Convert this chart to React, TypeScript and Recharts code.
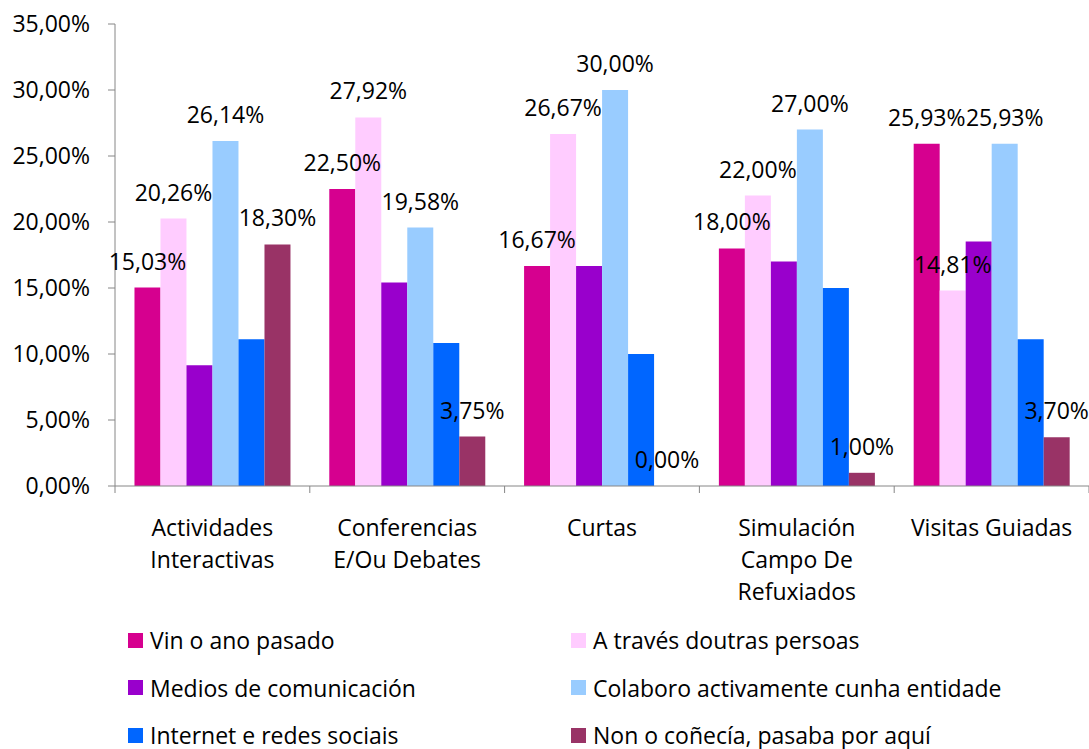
import { BarChart, Bar, XAxis, YAxis, Legend, LabelList } from 'recharts';

const categories = [
  'Actividades Interactivas',
  'Conferencias E/Ou Debates',
  'Curtas',
  'Simulación Campo De Refuxiados',
  'Visitas Guiadas',
];
// how each category label wraps under the axis
const categoryLines = [
  ['Actividades', 'Interactivas'],
  ['Conferencias', 'E/Ou Debates'],
  ['Curtas'],
  ['Simulación', 'Campo De', 'Refuxiados'],
  ['Visitas Guiadas'],
];

const vinAnoPasado = [15.03, 22.5, 16.67, 18.0, 25.93];
const travesDoutras = [20.26, 27.92, 26.67, 22.0, 14.81];
const medios = [9.15, 15.42, 16.67, 17.0, 18.52];
const colaboro = [26.14, 19.58, 30.0, 27.0, 25.93];
const internet = [11.11, 10.83, 10.0, 15.0, 11.11];
const nonCoñecia = [18.3, 3.75, 0.0, 1.0, 3.7];

const yTicks = [0, 5, 10, 15, 20, 25, 30, 35];

const SERIES = [
  { key: 'vin', name: 'Vin o ano pasado', color: '#D6008F', values: vinAnoPasado, labels: true },
  { key: 'traves', name: 'A través doutras persoas', color: '#FFCCFF', values: travesDoutras, labels: true },
  { key: 'medios', name: 'Medios de comunicación', color: '#9900CC', values: medios, labels: false },
  { key: 'colaboro', name: 'Colaboro activamente cunha entidade', color: '#99CCFF', values: colaboro, labels: true },
  { key: 'internet', name: 'Internet e redes sociais', color: '#0066FF', values: internet, labels: false },
  { key: 'non', name: 'Non o coñecía, pasaba por aquí', color: '#993366', values: nonCoñecia, labels: true },
];

const data = categories.map((c, i) => {
  const row: any = { name: c };
  SERIES.forEach(s => { row[s.key] = s.values[i]; });
  return row;
});

const W = 1089;
const H = 749;
const Y_AXIS_W = 115;
const BAND = (W - Y_AXIS_W) / categories.length;
const AXIS = '#868686';
const FS = 23;

const pct = (v: number) => v.toFixed(2).replace('.', ',') + '%';

const XTick = (props: any) => {
  const { x, y, index } = props;
  const lines = categoryLines[index] || [];
  const half = BAND / 2;
  return (
    <g>
      <line x1={x - half} x2={x - half} y1={y} y2={y + 7} stroke={AXIS} />
      {index === categories.length - 1 && (
        <line x1={x + half} x2={x + half} y1={y} y2={y + 7} stroke={AXIS} />
      )}
      <text x={x} y={y + 50} textAnchor="middle" fill="#000" fontSize={FS}>
        {lines.map((l, i) => (
          <tspan key={i} x={x} dy={i === 0 ? 0 : 32}>{l}</tspan>
        ))}
      </text>
    </g>
  );
};

const renderLabel = (props: any) => {
  const vb = props.viewBox || {};
  const x = Number(vb.x ?? props.x);
  const y = Number(vb.y ?? props.y);
  const w = Number(vb.width ?? props.width);
  if (!Number.isFinite(x) || !Number.isFinite(y)) return null;
  return (
    <text x={x + w / 2} y={y - 18} textAnchor="middle" fill="#000" fontSize={FS}>
      {pct(Number(props.value))}
    </text>
  );
};

const LegendBox = () => (
  <div style={{ position: 'relative', height: 130, width: W }}>
    {SERIES.map((s, i) => {
      const col = i % 2;
      const row = Math.floor(i / 2);
      return (
        <div
          key={s.key}
          style={{
            position: 'absolute',
            left: col === 0 ? 128 : 571,
            top: 21 + row * 47.5 - 16,
            height: 32,
            display: 'flex',
            alignItems: 'center',
            whiteSpace: 'nowrap',
            fontSize: FS,
            color: '#000',
          }}
        >
          <span style={{ width: 15, height: 15, background: s.color, display: 'inline-block', marginRight: 7 }} />
          <span>{s.name}</span>
        </div>
      );
    })}
  </div>
);

// a zero value still needs its rectangle (and label); keep it invisibly thin
const zeroSafe = (value: any) => (Number(value) === 0 ? 0.01 : 0);

export default function App() {
  return (
    <div style={{ position: 'absolute', left: 0, top: 0, width: W, height: H, background: '#fff', fontFamily: '"Open Sans", sans-serif' }}>
      <BarChart
        width={W}
        height={H}
        data={data}
        margin={{ top: 24, right: 0, bottom: 0, left: 0 }}
        barCategoryGap="10%"
        barGap={0}
      >
        <YAxis
          width={Y_AXIS_W}
          domain={[0, 35]}
          ticks={yTicks}
          interval={0}
          tickFormatter={pct}
          tickSize={7}
          tickMargin={18}
          axisLine={{ stroke: AXIS }}
          tickLine={{ stroke: AXIS }}
          tick={{ fill: '#000', fontSize: FS }}
        />
        <XAxis
          dataKey="name"
          height={133}
          interval={0}
          tickSize={0}
          tickMargin={0}
          tickLine={false}
          axisLine={{ stroke: AXIS }}
          tick={<XTick />}
        />
        <Legend verticalAlign="bottom" content={<LegendBox />} wrapperStyle={{ left: 0, width: W }} />
        {SERIES.map(s => (
          <Bar key={s.key} dataKey={s.key} name={s.name} fill={s.color} minPointSize={zeroSafe} isAnimationActive={false}>
            {s.labels && <LabelList dataKey={s.key} content={renderLabel} />}
          </Bar>
        ))}
      </BarChart>
    </div>
  );
}
